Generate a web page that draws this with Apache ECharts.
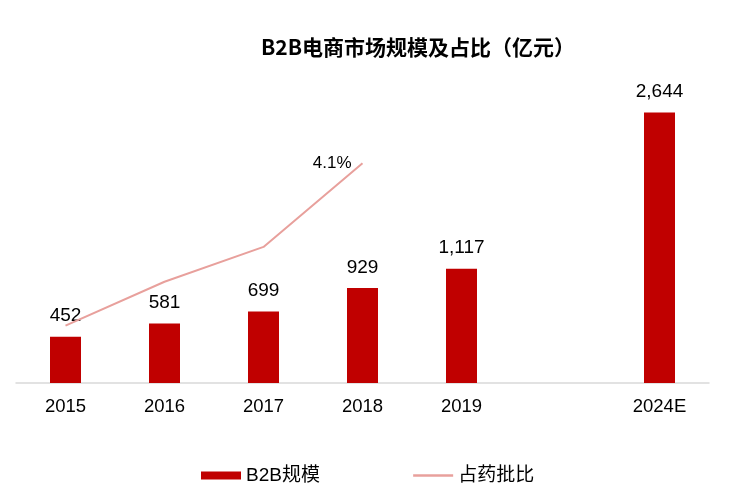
<!DOCTYPE html>
<html><head><meta charset="utf-8">
<script src="https://cdn.jsdelivr.net/npm/echarts@6/dist/echarts.min.js"></script>
<style>html,body{margin:0;padding:0;background:#fff}#c{width:734px;height:498px}</style>
</head><body><div id="c"></div>
<script>
const categories = ['2015','2016','2017','2018','2019','','2024E'];
const b2bScale = [452, 581, 699, 929, 1117, null, 2644];
const ratio = [1.07, 1.89, 2.54, 4.1, null, null, null];
const titleText = 'B2B电商市场规模及占比（亿元）';
const fontF = '"Liberation Sans", Arial, "Noto Sans CJK SC", sans-serif';
const lineColor = '#E8A09C';

const chart = echarts.init(document.getElementById('c'));
chart.setOption({
  animation: false,
  title: {text: titleText, left: 256, top: 32, textStyle: {fontSize: 21, fontWeight: 'bold', color: '#000', fontFamily: '"Noto Sans CJK SC", sans-serif'}},
  legend: {
    left: 196, top: 461, itemGap: 92, itemWidth: 40, itemHeight: 8,
    textStyle: {fontSize: 19, color: '#000', fontFamily: fontF},
    data: [
      {name: 'B2B规模', icon: 'rect'},
      {name: '占药批比', itemStyle: {opacity: 0}, lineStyle: {color: lineColor, width: 2.5}}
    ]
  },
  grid: {left: 16, right: 25, top: 76, bottom: 115, containLabel: false},
  xAxis: {
    type: 'category', data: categories,
    axisLine: {lineStyle: {color: '#D9D9D9', width: 1.5}},
    axisTick: {show: false},
    axisLabel: {fontSize: 18.5, color: '#000', margin: 15, fontFamily: fontF}
  },
  yAxis: [
    {type: 'value', min: 0, max: 3000, show: false, splitLine: {show: false}},
    {type: 'value', min: 0, max: 5.73, show: false, splitLine: {show: false}}
  ],
  series: [
    {
      name: 'B2B规模', type: 'bar', data: b2bScale, barWidth: 31,
      itemStyle: {color: '#C00000'},
      label: {show: true, position: 'top', distance: 11, fontSize: 19, color: '#000', fontFamily: fontF,
        formatter: p => p.value == null ? '' : p.value.toLocaleString('en-US')}
    },
    {
      name: '占药批比', type: 'line', yAxisIndex: 1, data: ratio,
      symbol: 'circle', symbolSize: 0, showSymbol: true,
      lineStyle: {color: lineColor, width: 2}, itemStyle: {color: lineColor},
      label: {show: true, position: 'left', distance: 11, fontSize: 17, color: '#000', fontFamily: fontF,
        formatter: p => p.dataIndex === 3 ? p.value + '%' : ''}
    }
  ]
});
</script></body></html>
